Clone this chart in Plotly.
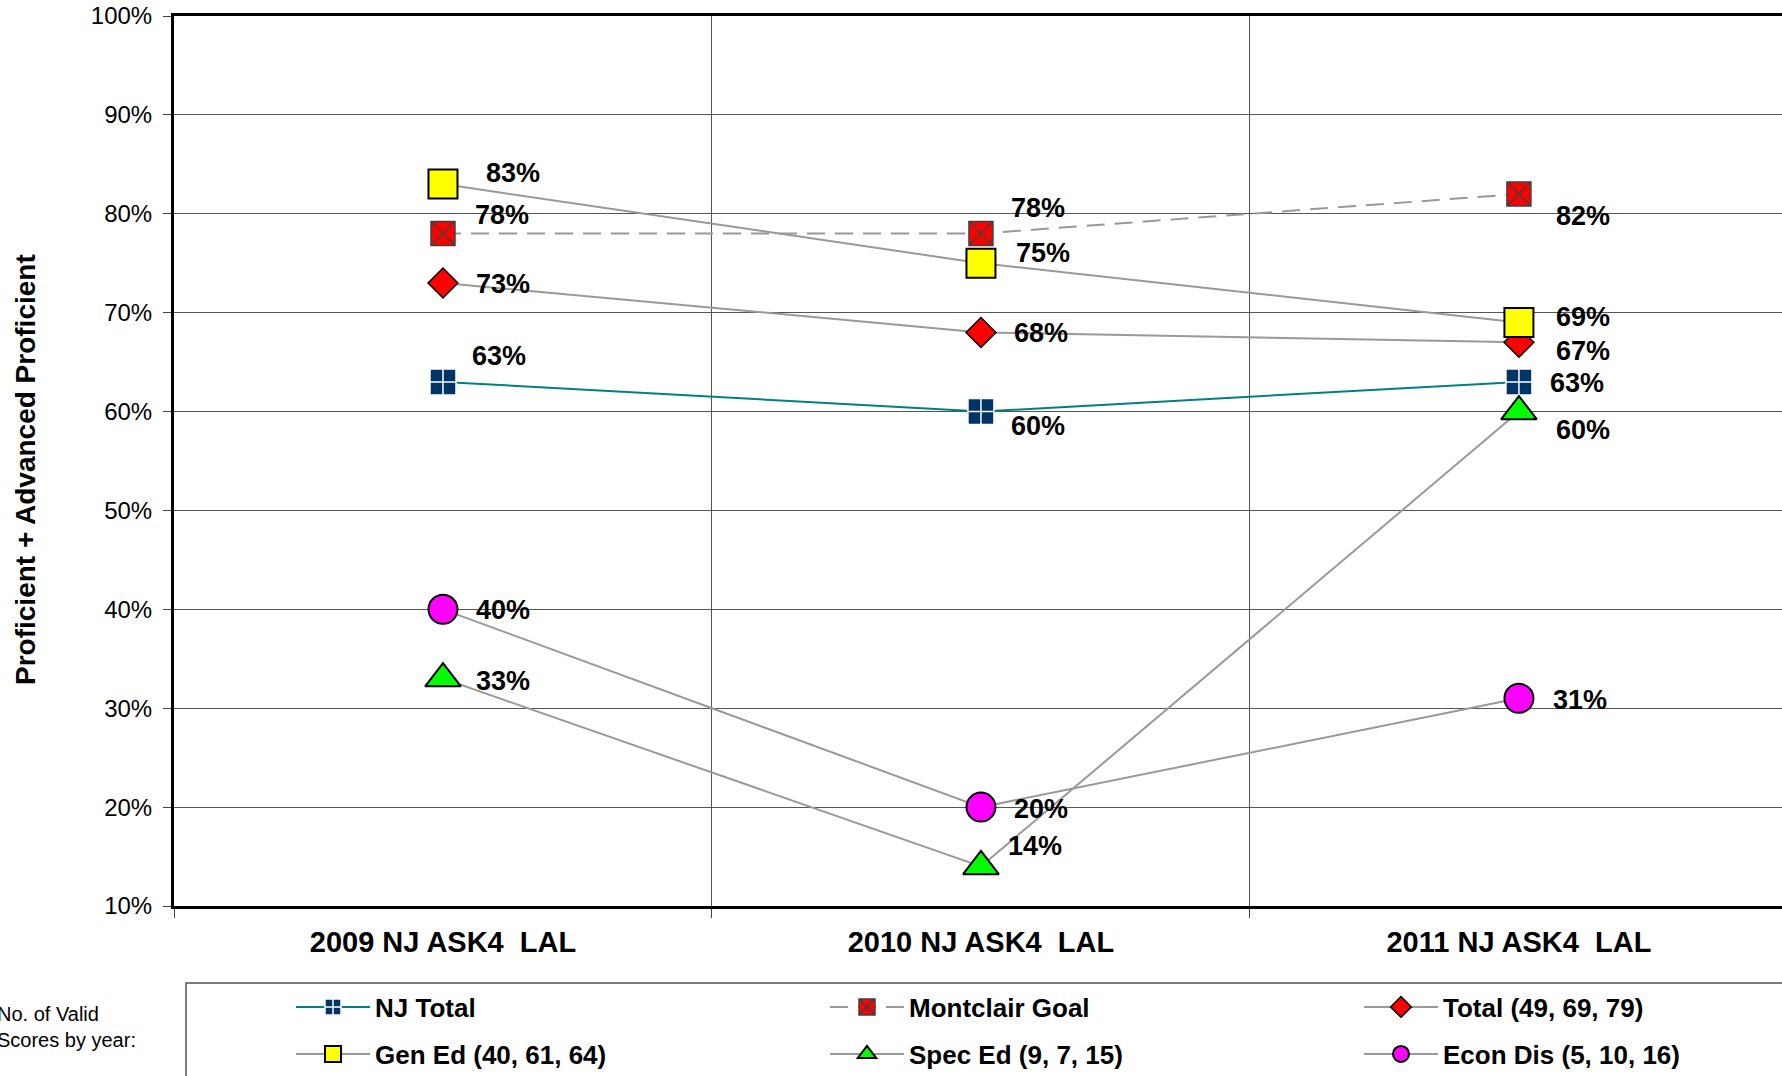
import plotly.graph_objects as go

# ---- data -----------------------------------------------------------------
categories = ["2009 NJ ASK4\u00a0\u00a0LAL", "2010 NJ ASK4\u00a0\u00a0LAL", "2011 NJ ASK4\u00a0\u00a0LAL"]
y_tick_values = [10, 20, 30, 40, 50, 60, 70, 80, 90, 100]
y_tick_labels = [f"{v}%" for v in y_tick_values]

nj_total = [63, 60, 63]
montclair_goal = [78, 78, 82]
total = [73, 68, 67]
gen_ed = [83, 75, 69]
spec_ed = [33, 14, 60]
econ_dis = [40, 20, 31]

series_names = [
    "NJ Total",
    "Montclair Goal",
    "Total (49, 69, 79)",
    "Gen Ed (40, 61, 64)",
    "Spec Ed (9, 7, 15)",
    "Econ Dis (5, 10, 16)",
]
series_values = [nj_total, montclair_goal, total, gen_ed, spec_ed, econ_dis]

# ---- styling --------------------------------------------------------------
FONT = "Liberation Sans, Arial, sans-serif"
W, H = 1782, 1076
L, T, B, R = 174, 16, 170, 0
PLOT_W = W - L - R
PLOT_H = H - T - B
GRAY_LINE = "#999999"

series_styles = [
    dict(line=dict(color="#008080", width=2),
         marker=dict(symbol="square-cross", size=26, color="#003366",
                     line=dict(color="white", width=1.5))),
    dict(line=dict(color=GRAY_LINE, width=2, dash="18px,10px"),
         marker=dict(symbol="square-x", size=24, color="#FF0000",
                     line=dict(color="#404040", width=1.5))),
    dict(line=dict(color=GRAY_LINE, width=2),
         marker=dict(symbol="diamond", size=23, color="#FF0000",
                     line=dict(color="black", width=1.5))),
    dict(line=dict(color=GRAY_LINE, width=2),
         marker=dict(symbol="square", size=29, color="#FFFF00",
                     line=dict(color="black", width=2))),
    dict(line=dict(color=GRAY_LINE, width=2),
         marker=dict(symbol="triangle-up", size=31, color="#00FF00",
                     line=dict(color="black", width=2))),
    dict(line=dict(color=GRAY_LINE, width=2),
         marker=dict(symbol="circle", size=29, color="#FF00FF",
                     line=dict(color="black", width=2))),
]

# pixel offsets (right, down) of each value label from its marker
label_offsets = [
    [(56, -26), (57, 14), (58, 1)],
    [(59, -19), (57, -26), (64, 22)],
    [(60, 1), (60, 1), (64, 9)],
    [(70, -11), (62, -10), (64, -6)],
    [(60, 2), (54, -20), (64, 18)],
    [(60, 1), (60, 2), (61, 2)],
]

# legend entry anchor (symbol centre x, row centre y) in page pixels
legend_slots = [(333, 1007), (867, 1007), (1401, 1007),
                (333, 1054), (867, 1054), (1401, 1054)]
LEGEND_ITEMWIDTH = 74
SYMBOL_CENTER = 5 + 15 + (LEGEND_ITEMWIDTH - 30) / 2

fig = go.Figure()

layout_legends = {}
for i, (name, vals, style) in enumerate(zip(series_names, series_values, series_styles)):
    legend_key = "legend" if i == 0 else f"legend{i + 1}"
    fig.add_trace(go.Scatter(
        x=list(range(len(categories))),
        y=vals,
        name=name,
        mode="lines+markers",
        line=style["line"],
        marker=style["marker"],
        legend=legend_key,
        hoverinfo="skip",
    ))
    sx, sy = legend_slots[i]
    layout_legends[legend_key] = dict(
        orientation="h",
        xref="container", yref="container",
        x=(sx - SYMBOL_CENTER) / W, xanchor="left",
        y=1 - sy / H, yanchor="middle",
        bgcolor="rgba(0,0,0,0)", borderwidth=0,
        itemwidth=LEGEND_ITEMWIDTH,
        font=dict(family=FONT, size=26, color="black", weight="bold"),
    )

    # value labels
    for j, v in enumerate(vals):
        dx, dy = label_offsets[i][j]
        fig.add_annotation(
            x=j, y=v, xref="x", yref="y",
            text=f"{v}%", showarrow=False,
            xshift=dx, yshift=-dy,
            font=dict(family=FONT, size=27, color="black", weight="bold"),
        )

# y axis title
fig.add_annotation(
    xref="paper", yref="paper",
    x=(25 - L) / PLOT_W, xanchor="center",
    y=(H - B - 470) / PLOT_H, yanchor="middle",
    text="Proficient + Advanced Proficient", textangle=-90,
    showarrow=False,
    font=dict(family=FONT, size=28, color="black", weight="bold"),
)

# legend side note
fig.add_annotation(
    xref="paper", yref="paper",
    x=(-5 - L) / PLOT_W, xanchor="left",
    y=(H - B - 1027) / PLOT_H, yanchor="middle",
    text="No. of Valid<br>Scores by year:", align="left",
    showarrow=False,
    font=dict(family=FONT, size=20, color="black"),
)

# legend frame
fig.add_shape(
    type="rect", xref="paper", yref="paper",
    x0=(186 - L) / PLOT_W, x1=1.05,
    y0=(H - B - 1120) / PLOT_H, y1=(H - B - 983) / PLOT_H,
    line=dict(color="#555555", width=1.5), fillcolor="rgba(0,0,0,0)",
)

fig.update_layout(
    width=W, height=H,
    margin=dict(l=L, r=R, t=T, b=B, autoexpand=False),
    paper_bgcolor="white", plot_bgcolor="white",
    showlegend=True,
    font=dict(family=FONT, color="black"),
    **layout_legends,
)

fig.update_xaxes(
    range=[-0.5, 2.489],
    tickmode="array", tickvals=list(range(len(categories))), ticktext=categories,
    ticks="", showgrid=False, zeroline=False,
    tickfont=dict(family=FONT, size=29, color="black", weight="bold"),
    ticklabelstandoff=8,
    showline=True, linecolor="black", linewidth=3, mirror=True,
    minor=dict(tick0=0.5, dtick=1, ticks="outside", ticklen=9, tickwidth=1,
               tickcolor="#444444", showgrid=True, gridcolor="#555555", gridwidth=1),
    automargin=False,
)

fig.update_yaxes(
    range=[10, 100],
    tickmode="array", tickvals=y_tick_values, ticktext=y_tick_labels,
    ticks="outside", ticklen=8, tickwidth=1, tickcolor="#444444",
    showgrid=True, gridcolor="#555555", gridwidth=1, zeroline=False,
    tickfont=dict(family=FONT, size=24, color="black"),
    ticklabelstandoff=6,
    showline=True, linecolor="black", linewidth=3,
    automargin=False,
)

fig.write_html("out.html")
